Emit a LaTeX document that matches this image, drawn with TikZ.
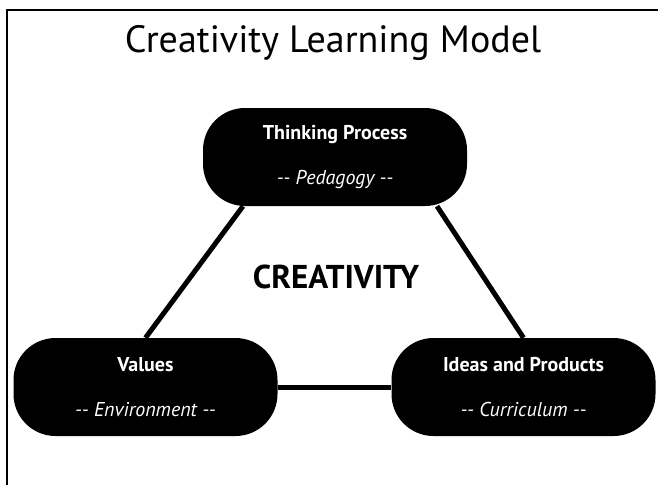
\documentclass[tikz,border=0pt]{standalone}
\usepackage{fontspec}
\setmainfont{PT Sans}
\tikzset{>=latex}
\tikzset{model box/.style = {fill=black, text=white, rounded corners=42pt, minimum width=264pt, minimum height=98pt, align=center, inner sep=0pt, font=\fontsize{20}{24}\selectfont}}
\tikzset{model link/.style = {line width=5pt}}
\newcommand{\boxtext}[2]{\textbf{#1}\\[21pt]\textit{-{}- #2 -{}-}}

\begin{document}
\begin{tikzpicture}[x=1pt, y=1pt]
		\useasboundingbox (0,0) rectangle (658,-485);

		% Frame
		\draw[line width=2pt] (7,-485) |- (658,-10);

		% Title
		\node[anchor=base] (title) at (333,-52) {\fontsize{38}{44}\selectfont Creativity Learning Model};

		% Boxes
		\node[model box] (think) at (335,-157) {\boxtext{Thinking Process}{Pedagogy}};
		\node[model box] (values) at (145.5,-387) {\boxtext{Values}{Environment}};
		\node[model box] (ideas) at (523.5,-387) {\boxtext{Ideas and Products}{Curriculum}};

		% Centre
		\node[anchor=base] (centre) at (336,-288) {\fontsize{33}{38}\selectfont\textbf{CREATIVITY}};

		% Links
		\draw[model link] ([xshift=-92pt]think.south) -- (values.north);
		\draw[model link] ([xshift=102pt]think.south) -- (ideas.north);
		\draw[model link] (values.east) -- (ideas.west);
	\end{tikzpicture}
\end{document}
